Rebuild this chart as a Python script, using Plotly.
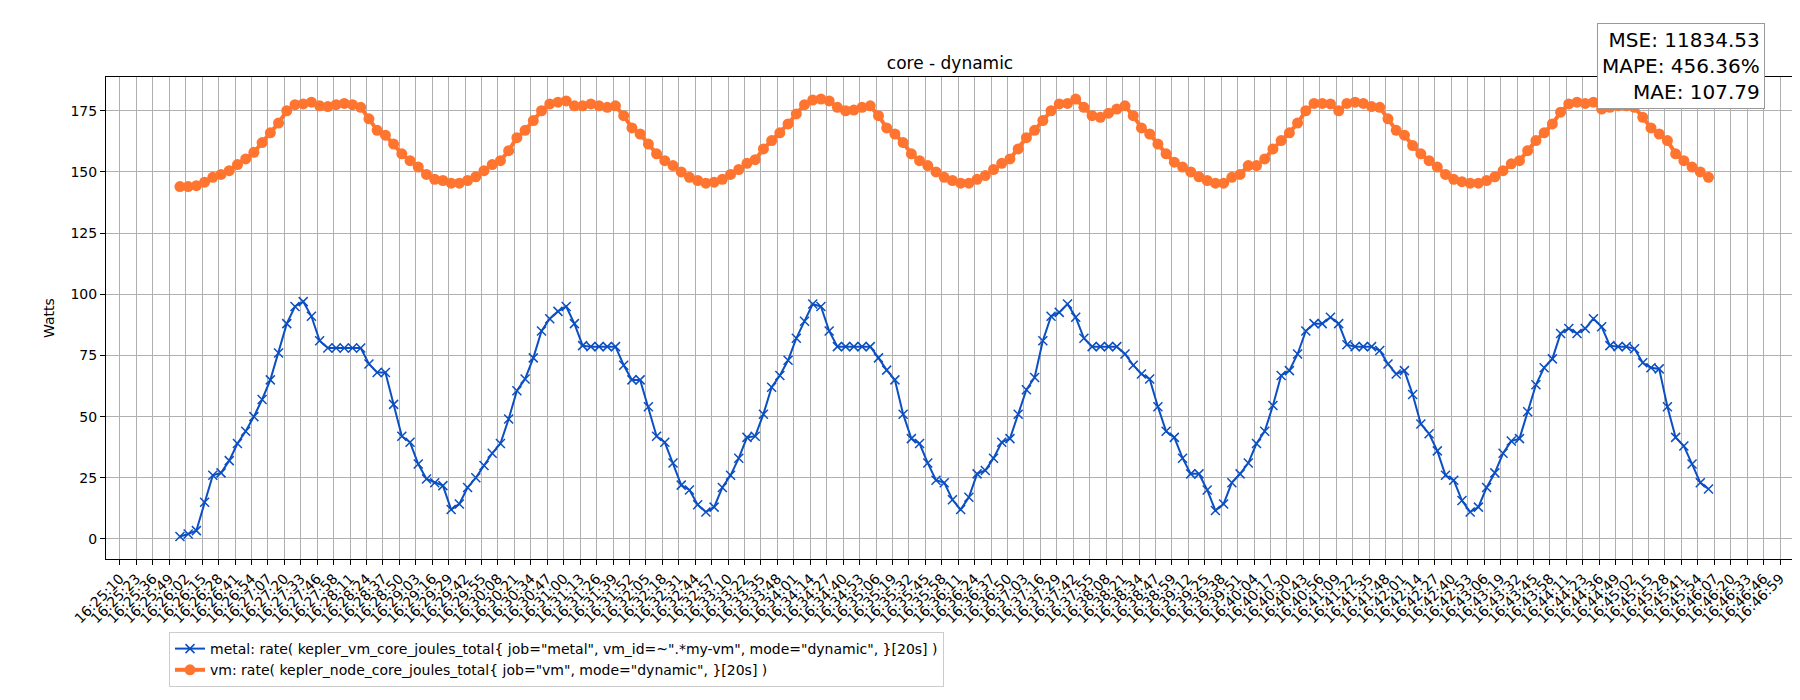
import numpy as np
import plotly.graph_objects as go

# x tick labels, 16:25:10 .. 16:46:59
TICK_START = 16 * 3600 + 25 * 60 + 10
TICK_END = 16 * 3600 + 46 * 60 + 59
N_TICKS = 102

# samples: first at 16:25:57, every 6.48 s
SAMPLE_START = 47.3   # seconds after 16:25:10
SAMPLE_STEP = 6.48

metal = [1, 2, 3.4, 15, 26, 27, 32, 39, 44, 50, 57, 65, 76, 88, 95, 97, 91, 81, 78, 78,
         78, 78, 78, 71.5, 68, 68, 55, 42, 39.5, 30.6, 24.5, 23, 21.8, 12, 14.3, 21, 25, 30, 35, 39,
         49, 60.6, 65.4, 74, 85, 90, 93, 95, 88, 79, 78.6, 78.6, 78.6, 78.6, 71, 65, 65, 54, 42, 39.5,
         31, 22, 20, 14, 11, 13, 21, 26, 33, 41.5, 42, 51, 62, 66.8, 73, 82, 89, 96, 95, 85,
         78.6, 78.6, 78.6, 78.6, 78.6, 74, 69, 65, 51, 41, 39, 31, 24, 23, 16, 12, 17, 26.6, 28, 33,
         39.5, 41, 51, 61, 66, 81, 91, 92.6, 96, 90.6, 82, 78.6, 78.6, 78.6, 78.6, 75.6, 71, 67.4, 65.4, 54,
         44, 41.5, 33, 26.6, 26.6, 20, 11.6, 14.3, 23, 26.6, 31, 39, 44, 54.5, 66.8, 68.8, 75.6, 85, 88, 88,
         90.6, 88, 79.4, 78.6, 78.6, 78.6, 77, 71.5, 67.4, 68.8, 59, 47, 43, 36, 26, 24, 15.7, 11, 13, 21,
         27, 35, 40, 41, 52, 63, 70, 73.6, 84, 86, 84, 86, 90, 86.7, 79, 78.6, 78.6, 77.7, 72, 70,
         69.5, 54, 41.5, 38, 30.6, 23, 20.4]

vm = [144, 144, 144.4, 145.8, 147.8, 149, 150.5, 153, 155.3, 158, 162, 166, 170, 175, 177.5, 177.8, 178.5, 177, 176.7, 177.5,
      178, 177.5, 176.4, 171.7, 167, 165, 161.4, 157.4, 154.6, 152, 149, 147, 146.5, 145.4, 145.4, 146.5, 148, 150.5, 153, 154.6,
      158.7, 164, 167, 171, 175, 177.8, 178.5, 179, 177, 177, 177.8, 177, 176.4, 177, 173, 168, 165.5, 161.4, 157.4, 154.6,
      152.6, 150, 147.8, 146.5, 145.4, 145.8, 147, 149, 151, 153.5, 155, 159.4, 162.8, 166, 169.6, 173.7, 177.5, 179.4, 179.8, 179,
      176.4, 175, 175.3, 176.4, 177, 173, 168, 165.5, 162, 157.4, 154.6, 152.6, 150, 147.8, 146.5, 145.4, 145.4, 147, 148.5, 151,
      153.5, 155.3, 159.4, 164, 167, 171, 175, 177.8, 178, 179.8, 176.4, 173, 172.3, 174, 175.7, 177, 173, 168, 165.5, 161.4,
      157.4, 154, 152, 150, 148, 146.5, 145.4, 145.4, 147.8, 149, 152.6, 152.6, 155.3, 159.4, 162.8, 166, 170, 175, 178, 178,
      177.8, 175, 178, 178.5, 178, 176.7, 176.4, 171.7, 167, 165, 160.8, 157.4, 154.6, 152, 149, 147, 146, 145.4, 145.4, 146.5,
      148, 150.5, 153.3, 154.6, 158.7, 162.8, 166, 169.6, 174.4, 177.8, 178.5, 178, 178.5, 175.7, 176.4, 177, 177, 176.4, 172.3, 168,
      165.5, 162.8, 157.4, 154.6, 152, 150, 147.8]

metal_name = 'metal: rate( kepler_vm_core_joules_total{ job="metal", vm_id=~".*my-vm", mode="dynamic", }[20s] )'
vm_name = 'vm: rate( kepler_node_core_joules_total{ job="vm", mode="dynamic", }[20s] )'
stats_text = "MSE: 11834.53<br>MAPE: 456.36%<br>MAE: 107.79"

tickvals = np.linspace(0, TICK_END - TICK_START, N_TICKS)
ticktext = []
for v in tickvals:
    s = int(round(TICK_START + v))
    ticktext.append("%02d:%02d:%02d" % (s // 3600, (s // 60) % 60, s % 60))

x_metal = SAMPLE_START + SAMPLE_STEP * np.arange(len(metal))
x_vm = SAMPLE_START + SAMPLE_STEP * np.arange(len(vm))

fig = go.Figure()
fig.add_trace(go.Scatter(
    x=x_metal, y=metal, name=metal_name, mode="lines+markers",
    line=dict(color="#0b4fc2", width=2),
    marker=dict(symbol="x-thin", size=9, line=dict(color="#0b4fc2", width=1.5)),
))
fig.add_trace(go.Scatter(
    x=x_vm, y=vm, name=vm_name, mode="lines+markers",
    line=dict(color="#ff7530", width=4),
    marker=dict(symbol="circle", size=11, color="#ff7530"),
))

axis_common = dict(showgrid=True, gridcolor="#b0b0b0", gridwidth=1, showline=True,
                   linecolor="black", linewidth=1, mirror=True, ticks="outside",
                   tickcolor="black", zeroline=False, automargin=False)

fig.update_layout(
    width=1800, height=700,
    plot_bgcolor="white", paper_bgcolor="white",
    font=dict(family="DejaVu Sans", size=14, color="black"),
    margin=dict(l=98, r=14, t=69, b=149),
    title=dict(text="core - dynamic", x=(98 + 1786) / 2 / 1800, xanchor="center",
               y=1 - 55 / 700, yanchor="middle", font=dict(size=17)),
    xaxis=dict(axis_common, range=[-11, 1320], tickmode="array", tickvals=tickvals,
               ticktext=ticktext, tickangle=-45, tickfont=dict(size=14)),
    yaxis=dict(axis_common, range=[-8.2, 188.8], tickvals=[0, 25, 50, 75, 100, 125, 150, 175],
               tickfont=dict(size=14), title=dict(text="Watts", font=dict(size=14), standoff=12)),
    legend=dict(x=(161 - 98) / 1688, y=1 - 624 / 700, yref="container",
                xanchor="left", yanchor="top", bordercolor="#cccccc", borderwidth=1,
                bgcolor="white", font=dict(size=14), orientation="v"),
    showlegend=True,
)
fig.add_annotation(
    text=stats_text, xref="paper", yref="paper", x=(1757 - 98) / 1688, y=(551 - 15) / 482,
    showarrow=False, align="right", xanchor="right", yanchor="top",
    font=dict(size=20), bordercolor="#999999", borderwidth=1, borderpad=4, bgcolor="white",
)
fig.write_html("out.html")
